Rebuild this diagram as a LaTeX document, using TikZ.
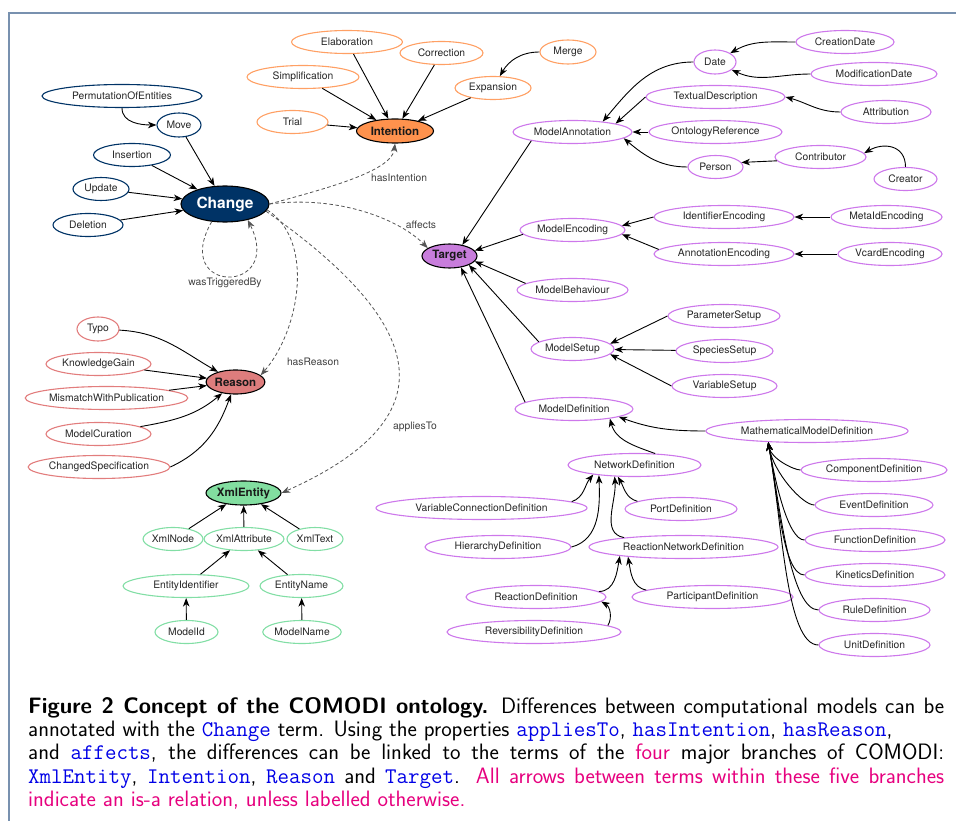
\documentclass[tikz,border=0pt]{standalone}
\usepackage{fontspec}
\usetikzlibrary{shapes.geometric,arrows.meta}
\newfontfamily\gvfont{TeX Gyre Heros}
\definecolor{chgblue}{RGB}{0,51,102}
\definecolor{intline}{RGB}{255,160,100}
\definecolor{intfill}{RGB}{255,146,77}
\definecolor{rsnline}{RGB}{226,125,125}
\definecolor{rsnfill}{RGB}{222,125,125}
\definecolor{xmlline}{RGB}{130,222,165}
\definecolor{xmlfill}{RGB}{130,222,160}
\definecolor{tgtline}{RGB}{205,120,235}
\definecolor{tgtfill}{RGB}{200,125,220}
\definecolor{propgray}{RGB}{85,85,85}
\definecolor{framecol}{RGB}{120,145,175}
\definecolor{capblue}{RGB}{0,0,230}
\definecolor{cappink}{RGB}{230,0,126}
\newcommand{\cterm}[1]{{\color{capblue}\ttfamily #1}}
\newcommand{\cpink}[1]{{\color{cappink}#1}}
\begin{document}
\begin{tikzpicture}[x=1pt, y=1pt,
  >={Stealth[length=8.5pt,width=6.5pt,inset=2.5pt]},
  term/.style={ellipse, draw, line width=1.1pt, inner sep=0pt, minimum height=23pt,
    text=black!85, font=\gvfont\fontsize{10.3}{12}\selectfont},
  chg/.style={term, draw=chgblue},
  int/.style={term, draw=intline},
  rsn/.style={term, draw=rsnline},
  xml/.style={term, draw=xmlline},
  tgt/.style={term, draw=tgtline},
  root/.style={ellipse, draw=black, line width=1.1pt, inner sep=0pt, minimum height=24pt,
    text=black!90, font=\gvfont\bfseries\fontsize{11.5}{13}\selectfont},
  isa/.style={->, line width=0.9pt},
  prop/.style={->, dash pattern=on 3.5pt off 2.5pt, draw=propgray, line width=0.8pt},
  plabel/.style={inner sep=0pt, text=black!75, font=\gvfont\fontsize{10.3}{12}\selectfont}]
\useasboundingbox (0,0) rectangle (956,-821);
\draw[framecol, line width=1.4pt] (956,-13) -- (9,-13) -- (9,-821);

% Change
\node[root, fill=chgblue, text=white, minimum width=88pt, minimum height=36pt,
  font=\gvfont\bfseries\fontsize{15.5}{17}\selectfont] (change) at (225,-204) {Change};
\node[chg, minimum width=160pt] (poe) at (122,-96) {PermutationOfEntities};
\node[chg, minimum width=44pt, minimum height=24pt] (move) at (179,-125) {Move};
\node[chg, minimum width=77pt] (ins) at (132,-155) {Insertion};
\node[chg, minimum width=56pt] (upd) at (101,-189) {Update};
\node[chg, minimum width=70pt] (del) at (88,-225) {Deletion};
\draw[isa] (poe) to[out=-90,in=180] (move);
\draw[isa] (move) -- (change);
\draw[isa] (ins) -- (change);
\draw[isa] (upd) -- (change);
\draw[isa] (del) -- (change);

% Intention
\node[root, fill=intfill, minimum width=77pt] (int) at (395,-131) {Intention};
\node[int, minimum width=111pt] (ela) at (347,-42) {Elaboration};
\node[int, minimum width=83pt] (cor) at (441.5,-53) {Correction};
\node[int, minimum width=112pt] (sim) at (303,-77) {Simplification};
\node[int, minimum width=76pt] (exp) at (493,-88) {Expansion};
\node[int, minimum width=56pt, minimum height=24pt] (mer) at (568,-52) {Merge};
\node[int, minimum width=71pt] (tri) at (292.5,-122) {Trial};
\draw[isa] (sim) -- (int);
\draw[isa] (ela) -- (int);
\draw[isa] (cor) -- (int);
\draw[isa] (exp) -- (int);
\draw[isa] (tri) -- (int);
\draw[isa] (mer) to[out=180,in=60] (exp);

% Reason
\node[root, fill=rsnfill, minimum width=55pt] (rsn) at (235.5,-382) {Reason};
\node[rsn, minimum width=42pt, minimum height=24pt] (typo) at (98,-329) {Typo};
\node[rsn, minimum width=105pt] (kg) at (98.5,-364) {KnowledgeGain};
\node[rsn, minimum width=143pt] (mwp) at (106.5,-398) {MismatchWithPublication};
\node[rsn, minimum width=105pt] (mc) at (98.5,-434) {ModelCuration};
\node[rsn, minimum width=130pt] (cs) at (99,-467) {ChangedSpecification};
\draw[isa] (typo) to[out=-3,in=150] (rsn);
\draw[isa] (kg) -- (rsn);
\draw[isa] (mwp) -- (rsn);
\draw[isa] (mc) to[out=10,in=-140] (rsn);
\draw[isa] (cs.east) to[out=25,in=-110] (rsn);

% XmlEntity
\node[root, fill=xmlfill, minimum width=71pt] (xml) at (243.5,-493) {XmlEntity};
\node[xml, minimum width=54pt] (xnode) at (173,-539) {XmlNode};
\node[xml, minimum width=80pt] (xattr) at (244,-539) {XmlAttribute};
\node[xml, minimum width=56pt] (xtext) at (315,-539) {XmlText};
\node[xml, minimum width=126pt] (eid) at (186,-586) {EntityIdentifier};
\node[xml, minimum width=83pt] (ename) at (301.5,-586) {EntityName};
\node[xml, minimum width=63pt] (mid) at (186.5,-632) {ModelId};
\node[xml, minimum width=78pt] (mname) at (302,-632) {ModelName};
\draw[isa] (xnode) -- (xml);
\draw[isa] (xattr) -- (xml);
\draw[isa] (xtext) -- (xml);
\draw[isa] (eid) -- (xattr);
\draw[isa] (ename) -- (xattr);
\draw[isa] (mid) -- (eid);
\draw[isa] (mname) -- (ename);

% Target
\node[root, fill=tgtfill, minimum width=55pt] (tgt) at (449.5,-256) {Target};
\node[tgt, minimum width=119pt] (ma) at (572.5,-132) {ModelAnnotation};
\node[tgt, minimum width=42pt, minimum height=24pt] (date) at (715,-62) {Date};
\node[tgt, minimum width=98pt] (cdate) at (845,-42) {CreationDate};
\node[tgt, minimum width=126pt] (mdate) at (874,-74) {ModificationDate};
\node[tgt, minimum width=139pt] (td) at (715.5,-97) {TextualDescription};
\node[tgt, minimum width=90pt] (attr) at (886,-112) {Attribution};
\node[tgt, minimum width=133pt] (oref) at (715.5,-132) {OntologyReference};
\node[tgt, minimum width=55pt] (pers) at (715.5,-167) {Person};
\node[tgt, minimum width=91pt] (contr) at (820.5,-157) {Contributor};
\node[tgt, minimum width=63pt] (crea) at (905.5,-179) {Creator};
\node[tgt, minimum width=105pt] (menc) at (572.5,-230) {ModelEncoding};
\node[tgt, minimum width=140pt] (ienc) at (724,-217) {IdentifierEncoding};
\node[tgt, minimum width=111pt] (meta) at (886.5,-217) {MetaIdEncoding};
\node[tgt, minimum width=140pt] (aenc) at (724,-254) {AnnotationEncoding};
\node[tgt, minimum width=104pt] (venc) at (890,-254) {VcardEncoding};
\node[tgt, minimum width=111pt] (mbeh) at (572.5,-290) {ModelBehaviour};
\node[tgt, minimum width=83pt] (mset) at (572.5,-349) {ModelSetup};
\node[tgt, minimum width=112pt] (pset) at (724,-316) {ParameterSetup};
\node[tgt, minimum width=97pt] (sset) at (724.5,-351) {SpeciesSetup};
\node[tgt, minimum width=105pt] (vset) at (724.5,-386) {VariableSetup};
\node[tgt, minimum width=118pt] (mdef) at (574,-409) {ModelDefinition};
\node[tgt, minimum width=202pt] (mmd) at (807,-431) {MathematicalModelDefinition};
\node[tgt, minimum width=133pt] (ndef) at (634.5,-465) {NetworkDefinition};
\node[tgt, minimum width=211pt] (vcd) at (481.5,-508) {VariableConnectionDefinition};
\node[tgt, minimum width=112pt] (pdef) at (681,-509) {PortDefinition};
\node[tgt, minimum width=146pt] (hdef) at (498,-547) {HierarchyDefinition};
\node[tgt, minimum width=189pt] (rnd) at (683.5,-547) {ReactionNetworkDefinition};
\node[tgt, minimum width=140pt] (rdef) at (536,-597) {ReactionDefinition};
\node[tgt, minimum width=161pt] (partd) at (712.5,-597) {ParticipantDefinition};
\node[tgt, minimum width=174pt] (revd) at (534,-632) {ReversibilityDefinition};
\node[tgt, minimum width=146pt] (compd) at (874,-470) {ComponentDefinition};
\node[tgt, minimum width=118pt] (evd) at (874,-505) {EventDefinition};
\node[tgt, minimum width=140pt] (fund) at (875,-540) {FunctionDefinition};
\node[tgt, minimum width=140pt] (kind) at (875,-575) {KineticsDefinition};
\node[tgt, minimum width=111pt] (ruled) at (874.5,-610) {RuleDefinition};
\node[tgt, minimum width=111pt] (unitd) at (874.5,-645) {UnitDefinition};

\draw[isa] (ma.-168) -- (tgt.41);
\draw[isa] (menc.-175) -- (tgt.12);
\draw[isa] (mbeh.172) -- (tgt.-12);
\draw[isa] (mset.168) -- (tgt.-25);
\draw[isa] (mdef.172) -- (tgt.-45);
\draw[isa] (date.west) to[out=180,in=50] (ma.19);
\draw[isa] (td.west) -- (ma.11);
\draw[isa] (oref.west) -- (ma.east);
\draw[isa] (pers.west) to[out=180,in=-40] (ma.-7);
\draw[isa] (cdate) to[out=180,in=30] (date);
\draw[isa] (mdate) to[out=180,in=-25] (date);
\draw[isa] (attr) to[out=180,in=-15] (td.east);
\draw[isa] (contr.-175) -- (pers.10);
\draw[isa] (crea.north) to[out=90,in=30,looseness=1.3] (contr.5);
\draw[isa] (ienc.west) -- (menc.5);
\draw[isa] (aenc.176) -- (menc.-5);
\draw[isa] (meta) -- (ienc);
\draw[isa] (venc) -- (aenc);
\draw[isa] (pset.west) -- (mset.8);
\draw[isa] (sset) -- (mset);
\draw[isa] (vset.west) -- (mset.-8);
\draw[isa] (mmd.west) to[out=180,in=-20] (mdef.-10);
\draw[isa] (ndef.29) to[out=160,in=-75] (mdef.-15);
\draw[isa] (vcd.4) to[out=20,in=-130] (ndef.-167);
\draw[isa] (hdef.east) to[out=15,in=-88] (ndef.-164);
\draw[isa] (rnd.171) to[out=170,in=-85] (ndef.-150);
\draw[isa] (pdef.170) to[out=165,in=-60] (ndef.-145);
\draw[isa] (rdef.5) to[out=0,in=-100] (rnd.-172);
\draw[isa] (partd.174) to[out=170,in=-80] (rnd.-170);
\draw[isa] (revd.5) to[out=60,in=-30] (rdef.-4);
\foreach \sub in {compd,evd,fund,kind,ruled,unitd}
  \draw[isa] (\sub.west) to[out=180,in=-80,out looseness=0.4] (mmd.-164);

% properties
\draw[prop] (change.east) .. controls (320,-190) and (392,-172) .. (int.south);
\node[plabel] (lint) at (399,-178) {hasIntention};
\draw[prop] (change.east) .. controls (340,-195) and (400,-220) .. (tgt.160);
\node[plabel] (laff) at (421,-225) {affects};
\draw[prop] (change.-8) .. controls (315,-240) and (300,-330) .. (rsn.15);
\node[plabel] (lrsn) at (313,-362) {hasReason};
\draw[prop] (change.-10) .. controls (435,-330) and (445,-420) .. (xml.east);
\node[plabel] (lapp) at (415,-427) {appliesTo};
\draw[prop] (change.-127) .. controls (170,-295) and (285,-295) .. (change.-35);
\node[plabel] (lwas) at (225,-283) {wasTriggeredBy};

% caption
\node[anchor=north west, text width=916pt, align=justify, inner sep=0pt,
  font=\sffamily\fontsize{22.3}{23.3}\selectfont] (caption) at (28,-697)
  {\noindent\textbf{Figure 2 Concept of the COMODI ontology.} Differences between computational models can be\linebreak
   annotated with the \cterm{Change} term. Using the properties \cterm{appliesTo}, \cterm{hasIntention}, \cterm{hasReason},\newline
   and \cterm{affects}, the differences can be linked to the terms of the \cpink{four} major branches of COMODI:\linebreak
   \cterm{XmlEntity}, \cterm{Intention}, \cterm{Reason} and \cterm{Target}. \cpink{All arrows between terms within these five branches}\linebreak
   \cpink{indicate an is-a relation, unless labelled otherwise.}};
\end{tikzpicture}
\end{document}
